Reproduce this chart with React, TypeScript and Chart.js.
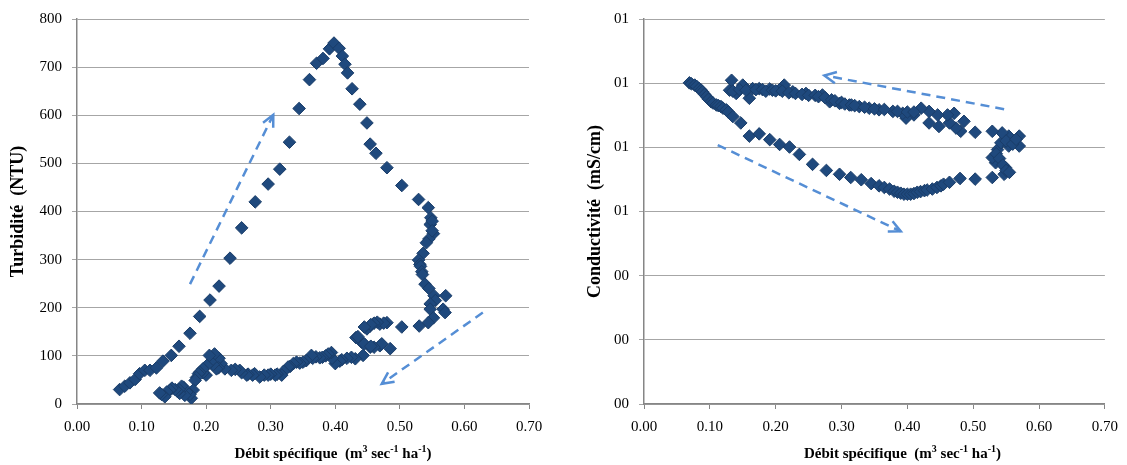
import React, { useEffect, useRef } from "react";
import { Chart, registerables } from "chart.js";

Chart.register(...registerables);

// ---- Turbidité vs débit spécifique ----
const turbX = [
  0.066, 0.074, 0.082, 0.090, 0.097, 0.105, 0.113, 0.123, 0.133, 0.146, 0.158, 0.175, 0.190, 0.206, 0.220,
  0.237, 0.255, 0.276, 0.296, 0.314, 0.329, 0.344, 0.360, 0.371, 0.381, 0.391, 0.398, 0.406, 0.411, 0.415,
  0.419, 0.426, 0.438, 0.449, 0.454, 0.463, 0.480, 0.503, 0.529, 0.544, 0.548, 0.547, 0.550, 0.552, 0.545,
  0.541, 0.536, 0.529, 0.531, 0.532, 0.534, 0.535, 0.539, 0.545, 0.550, 0.553, 0.571, 0.555, 0.547, 0.547,
  0.567, 0.570, 0.552, 0.544, 0.530, 0.503, 0.485, 0.480, 0.469, 0.454, 0.449, 0.432, 0.441, 0.454, 0.469,
  0.475, 0.465, 0.460, 0.455, 0.445, 0.445, 0.435, 0.472, 0.460, 0.455, 0.443, 0.431, 0.425, 0.418, 0.410,
  0.407, 0.400, 0.395, 0.394, 0.389, 0.385, 0.380, 0.376, 0.370, 0.365, 0.363, 0.355, 0.350, 0.345, 0.340,
  0.335, 0.330, 0.327, 0.320, 0.317, 0.310, 0.307, 0.300, 0.296, 0.290, 0.283, 0.275, 0.272, 0.265, 0.263,
  0.255, 0.252, 0.245, 0.239, 0.229, 0.223, 0.220, 0.219, 0.216, 0.213, 0.211, 0.207, 0.205, 0.201, 0.200,
  0.195, 0.195, 0.190, 0.188, 0.185, 0.183, 0.180, 0.177, 0.175, 0.170, 0.167, 0.165, 0.162, 0.159, 0.158,
  0.155, 0.152, 0.147, 0.144, 0.139, 0.136, 0.131, 0.128,
];
const turbY = [
  30, 37, 44, 51, 63, 70, 70, 75, 89, 101, 120, 147, 182, 216, 245,
  303, 366, 420, 457, 488, 544, 614, 674, 708, 718, 738, 750, 739, 723, 706,
  688, 655, 623, 584, 540, 521, 491, 454, 425, 408, 387, 373, 380, 354, 343,
  335, 313, 299, 290, 286, 275, 269, 249, 240, 360, 225, 225, 215, 208, 197,
  197, 190, 179, 169, 162, 160, 115, 169, 166, 162, 156, 138, 128, 118, 121,
  168, 170, 168, 165, 160, 125, 140, 125, 118, 120, 101, 94, 97, 95, 92,
  89, 84, 95, 107, 104, 100, 97, 96, 98, 95, 101, 90, 87, 85, 87,
  84, 78, 77, 68, 60, 62, 60, 62, 60, 60, 56, 63, 60, 62, 60,
  65, 70, 72, 70, 73, 84, 95, 75, 73, 104, 82, 88, 101, 80, 60,
  65, 73, 66, 63, 55, 49, 29, 12, 20, 25, 18, 35, 37, 22, 30,
  27, 30, 33, 29, 25, 15, 20, 23,
];

// ---- Conductivité vs débit spécifique ----
const condX = [
  0.069, 0.072, 0.077, 0.080, 0.084, 0.087, 0.089, 0.092, 0.095, 0.098, 0.102, 0.105, 0.110, 0.113, 0.117,
  0.120, 0.125, 0.128, 0.135, 0.147, 0.160, 0.175, 0.191, 0.206, 0.221, 0.236, 0.256, 0.277, 0.297, 0.314,
  0.330, 0.345, 0.357, 0.365, 0.373, 0.380, 0.385, 0.390, 0.395, 0.400, 0.405, 0.410, 0.415, 0.420, 0.426,
  0.430, 0.438, 0.445, 0.451, 0.455, 0.464, 0.480, 0.503, 0.529, 0.547, 0.549, 0.534, 0.529, 0.537, 0.542,
  0.554, 0.570, 0.570, 0.554, 0.544, 0.529, 0.503, 0.550, 0.560, 0.565, 0.535, 0.540, 0.545, 0.550, 0.555,
  0.486, 0.481, 0.474, 0.471, 0.464, 0.461, 0.448, 0.446, 0.433, 0.433, 0.421, 0.410, 0.398, 0.393, 0.378,
  0.357, 0.342, 0.327, 0.312, 0.297, 0.282, 0.271, 0.246, 0.226, 0.213, 0.206, 0.191, 0.175, 0.165, 0.160,
  0.150, 0.140, 0.130, 0.133, 0.135, 0.145, 0.155, 0.170, 0.180, 0.185, 0.195, 0.200, 0.210, 0.220, 0.230,
  0.240, 0.250, 0.260, 0.265, 0.275, 0.285, 0.290, 0.300, 0.305, 0.315, 0.320, 0.335, 0.350, 0.365, 0.385,
  0.400, 0.410,
];
const condY = [
  1.001, 0.998, 0.994, 0.990, 0.983, 0.978, 0.973, 0.965, 0.958, 0.950, 0.942, 0.938, 0.932, 0.930, 0.927,
  0.922, 0.917, 0.910, 0.896, 0.876, 0.835, 0.842, 0.824, 0.809, 0.801, 0.778, 0.747, 0.728, 0.716, 0.706,
  0.699, 0.687, 0.680, 0.675, 0.670, 0.663, 0.660, 0.657, 0.654, 0.654, 0.654, 0.656, 0.660, 0.662, 0.665,
  0.667, 0.670, 0.675, 0.680, 0.685, 0.691, 0.703, 0.701, 0.706, 0.716, 0.737, 0.752, 0.768, 0.793, 0.814,
  0.804, 0.804, 0.835, 0.835, 0.845, 0.850, 0.847, 0.820, 0.810, 0.825, 0.780, 0.765, 0.745, 0.728, 0.722,
  0.881, 0.850, 0.860, 0.906, 0.876, 0.901, 0.865, 0.901, 0.876, 0.912, 0.922, 0.901, 0.891, 0.906, 0.912,
  0.917, 0.922, 0.927, 0.932, 0.937, 0.942, 0.963, 0.968, 0.973, 0.994, 0.980, 0.982, 0.983, 0.983, 0.953,
  0.994, 0.968, 0.978, 1.009, 0.975, 0.980, 0.978, 0.980, 0.980, 0.975, 0.978, 0.976, 0.975, 0.970, 0.968,
  0.965, 0.962, 0.962, 0.958, 0.955, 0.948, 0.945, 0.940, 0.935, 0.932, 0.930, 0.925, 0.920, 0.918, 0.912,
  0.910, 0.910,
];

// Axis tick labels
const flowTicks = ["0.00", "0.10", "0.20", "0.30", "0.40", "0.50", "0.60", "0.70"];
const turbTicks = ["0", "100", "200", "300", "400", "500", "600", "700", "800"];
const condTicks = ["00", "00", "00", "01", "01", "01", "01"];

// Dashed trend arrows, [x, y] from tail to head
const turbArrows = [
  [[0.175, 249], [0.304, 601]],
  [[0.6285, 190], [0.472, 42]],
];
const condArrows = [
  [[0.547, 0.919], [0.274, 1.024]],
  [[0.112, 0.807], [0.390, 0.538]],
];

const FONT = "'Liberation Serif', 'DejaVu Serif', serif";
const MARK_FILL = "#1F497D";
const MARK_EDGE = "#1A3D69";
const ARROW = "#558ED5";
const GRID = "#a6a6a6";
const AXIS = "#868686";

const xTitleParts = [
  { t: "Débit spécifique  (m", sup: false },
  { t: "3", sup: true },
  { t: " sec", sup: false },
  { t: "-1", sup: true },
  { t: " ha", sup: false },
  { t: "-1", sup: true },
  { t: ")", sup: false },
];

function makeOverlay(arrows: number[][][], titleShift: number) {
  return {
    id: "overlay",
    afterDatasetsDraw(chart: any) {
      const { ctx, scales } = chart;
      const xs = scales.x;
      const ys = scales.y;
      ctx.save();
      ctx.strokeStyle = ARROW;
      ctx.lineWidth = 2.5;
      arrows.forEach(([a, b]) => {
        const x1 = xs.getPixelForValue(a[0]);
        const y1 = ys.getPixelForValue(a[1]);
        const x2 = xs.getPixelForValue(b[0]);
        const y2 = ys.getPixelForValue(b[1]);
        ctx.setLineDash([9, 6]);
        ctx.beginPath();
        ctx.moveTo(x1, y1);
        ctx.lineTo(x2, y2);
        ctx.stroke();
        const ang = Math.atan2(y2 - y1, x2 - x1);
        const len = 13;
        ctx.setLineDash([]);
        ctx.beginPath();
        ctx.moveTo(x2 - len * Math.cos(ang - 0.45), y2 - len * Math.sin(ang - 0.45));
        ctx.lineTo(x2, y2);
        ctx.lineTo(x2 - len * Math.cos(ang + 0.45), y2 - len * Math.sin(ang + 0.45));
        ctx.stroke();
      });
      ctx.restore();
    },
    afterDraw(chart: any) {
      const { ctx, chartArea } = chart;
      ctx.save();
      ctx.fillStyle = "#000";
      ctx.textBaseline = "alphabetic";
      const big = `bold 15px ${FONT}`;
      const small = `bold 10px ${FONT}`;
      let total = 0;
      xTitleParts.forEach((p) => {
        ctx.font = p.sup ? small : big;
        total += ctx.measureText(p.t).width;
      });
      let x = (chartArea.left + chartArea.right) / 2 + titleShift - total / 2;
      const base = 458;
      xTitleParts.forEach((p) => {
        ctx.font = p.sup ? small : big;
        ctx.fillText(p.t, x, p.sup ? base - 6 : base);
        x += ctx.measureText(p.t).width;
      });
      ctx.restore();
    },
  };
}

function buildConfig(
  xs: number[],
  ys: number[],
  yMax: number,
  yStep: number,
  yLabels: string[],
  yTitle: string,
  yAxisWidth: number,
  yTitlePad: number,
  rightPad: number,
  arrows: number[][][],
  titleShift: number
): any {
  const points = xs.map((x, i) => ({ x, y: ys[i] }));
  return {
    type: "scatter",
    data: {
      datasets: [
        {
          data: points,
          pointStyle: "rectRot",
          pointRadius: 6.3,
          backgroundColor: MARK_FILL,
          borderColor: MARK_EDGE,
          borderWidth: 1,
        },
      ],
    },
    options: {
      animation: false,
      responsive: false,
      events: [],
      layout: { padding: { top: 15, right: rightPad, left: 0, bottom: 0 } },
      plugins: { legend: { display: false }, tooltip: { enabled: false } },
      scales: {
        x: {
          type: "linear",
          min: 0,
          max: 0.7,
          afterFit: (s: any) => {
            s.height = 61;
          },
          ticks: {
            stepSize: 0.1,
            padding: 9,
            color: "#000",
            font: { family: FONT, size: 15 },
            callback: (_v: any, i: number) => flowTicks[i],
          },
          grid: { drawOnChartArea: false, drawTicks: true, tickLength: 5, color: AXIS },
          border: { color: AXIS, width: 1.5 },
        },
        y: {
          type: "linear",
          min: 0,
          max: yMax,
          afterFit: (s: any) => {
            s.width = yAxisWidth;
          },
          ticks: {
            stepSize: yStep,
            padding: 10,
            color: "#000",
            font: { family: FONT, size: 15 },
            callback: (_v: any, i: number) => yLabels[i],
          },
          grid: { color: GRID, lineWidth: 1, drawTicks: true, tickLength: 5 },
          border: { color: AXIS, width: 1.5 },
          title: {
            display: true,
            text: yTitle,
            color: "#000",
            font: { family: FONT, size: 18, weight: "bold" },
            padding: { top: yTitlePad, bottom: 0 },
          },
        },
      },
    },
    plugins: [makeOverlay(arrows, titleShift)],
  };
}

function Panel(props: { cfg: any; left: number; width: number }) {
  const ref = useRef<HTMLCanvasElement>(null);
  useEffect(() => {
    if (!ref.current) return;
    const chart = new Chart(ref.current, props.cfg);
    return () => chart.destroy();
  }, []);
  return (
    <div style={{ position: "absolute", left: props.left, top: 0, width: props.width, height: 465 }}>
      <canvas ref={ref} width={props.width} height={465} style={{ width: props.width, height: 465 }} />
    </div>
  );
}

export default function App() {
  const turbCfg = buildConfig(
    turbX, turbY, 800, 100, turbTicks, "Turbidité  (NTU)", 77, 8, 34, turbArrows, 30
  );
  const condCfg = buildConfig(
    condX, condY, 1.2, 0.2, condTicks, "Conductivité  (mS/cm)", 81, 22, 21, condArrows, 28
  );
  return (
    <div style={{ position: "absolute", left: 0, top: 0, width: 1127, height: 465, background: "#fff" }}>
      <Panel cfg={turbCfg} left={0} width={563} />
      <Panel cfg={condCfg} left={563} width={564} />
    </div>
  );
}
